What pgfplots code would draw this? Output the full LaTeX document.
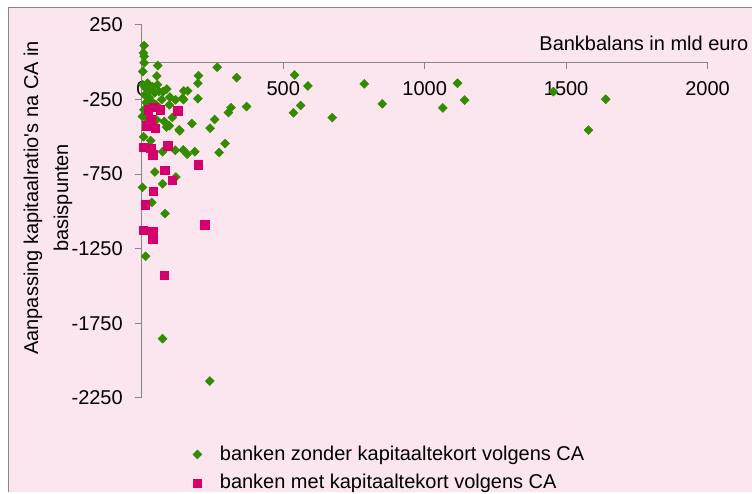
\documentclass[border=0pt]{standalone}
\usepackage{pgfplots}
\pgfplotsset{compat=1.18}
\usepackage{fontspec}
\setmainfont{Liberation Sans}
\definecolor{pinkbg}{RGB}{251,229,238}
\definecolor{gr}{RGB}{51,140,0}
\definecolor{mg}{RGB}{214,0,108}
\definecolor{axgray}{RGB}{134,134,134}
\begin{document}
\fontsize{20}{24}\selectfont
\begin{tikzpicture}[x=1pt,y=1pt]
\fill[white] (-142,-94) rectangle (610,398);
\fill[pinkbg] (-133,-94) rectangle (610,390);
\draw[axgray,line width=1pt] (-133,-94) -- (-133,390) -- (610,390);
\begin{axis}[at={(0,0)}, anchor=south west, scale only axis,
  width=566pt, height=373pt,
  xmin=0, xmax=2000, ymin=-2250, ymax=250,
  axis x line*=middle, axis y line*=left,
  hide obscured x ticks=false,
  axis line style={axgray, line width=1pt},
  xtick={0,500,1000,1500,2000}, xticklabels={0,500,1000,1500,2000},
  ytick={250,-250,-750,-1250,-1750,-2250},
  yticklabels={250,-250,-750,-1250,-1750,-2250},
  tick align=outside, major tick length=7pt,
  tick style={axgray, line width=1pt},
  xticklabel style={anchor=north, inner sep=0pt, yshift=-12pt},
  yticklabel style={anchor=east, inner sep=0pt, xshift=-12pt},
  clip=false,
  legend style={at={(axis description cs:0.0901,-0.1233)}, anchor=north west,
    draw=none, fill=none, inner sep=0pt, outer sep=0pt,
    nodes={inner sep=2pt}, row sep=7pt,
    /tikz/every odd column/.append style={column sep=16pt}},
  legend cell align=left,
]
\addplot[only marks, mark=square*, mark size=3.2pt, mark options={rotate=45, fill=gr, draw=gr}, color=gr]
coordinates {
(540,-85)(587,-159)(561,-290)(536,-339)(673,-371)(786,-145)(850,-279)(1064,-306)
(1116,-141)(1141,-254)(1455,-197)(1640,-248)(1579,-455)
(266,-33)(200,-90)(335,-103)(198,-141)(148,-192)(162,-192)(147,-250)(198,-244)
(370,-297)(315,-304)(306,-337)(257,-384)(177,-411)(241,-442)(134,-460)(294,-545)
(146,-588)(187,-600)(273,-605)(160,-616)
(8,112)(5,62)(8,40)(8,-4)(3,-62)(56,-22)(53,-92)(55,-150)
(3,-150)(12,-170)(20,-140)(28,-190)(38,-165)(45,-205)(10,-220)(25,-235)(60,-195)
(75,-197)(99,-234)(119,-252)(70,-250)(88,-180)(15,-270)(35,-265)(50,-285)(97,-286)(144,-241)
(7,-319)(11,-364)(2,-364)(108,-370)(79,-397)(52,-386)(87,-435)(97,-426)(132,-453)
(6,-500)(31,-525)(73,-600)(118,-590)(46,-736)(120,-770)(73,-815)(2,-839)(35,-940)
(82,-1015)(13,-1301)(73,-1854)(240,-2138)
};
\addlegendentry{banken zonder kapitaaltekort volgens CA}
\addplot[only marks, mark=square*, mark size=4.2pt, mark options={fill=mg, draw=mg}, color=mg]
coordinates {
(42,-301)(64,-319)(22,-319)(126,-324)(31,-386)(17,-426)(46,-442)(7,-569)(31,-576)
(91,-560)(38,-620)(81,-725)(108,-792)(199,-687)(41,-866)(12,-955)(5,-1127)(38,-1133)
(38,-1185)(222,-1089)(78,-1428)
};
\addlegendentry{banken met kapitaaltekort volgens CA}
\end{axis}
\node[anchor=base east, inner sep=0pt] at (607,347) {Bankbalans in mld euro};
\node[rotate=90, align=center, inner sep=0pt, font=\fontsize{20}{30}\selectfont] at (-94,200)
  {Aanpassing kapitaalratio\textquotesingle s na CA in\\basispunten};
\end{tikzpicture}
\end{document}
